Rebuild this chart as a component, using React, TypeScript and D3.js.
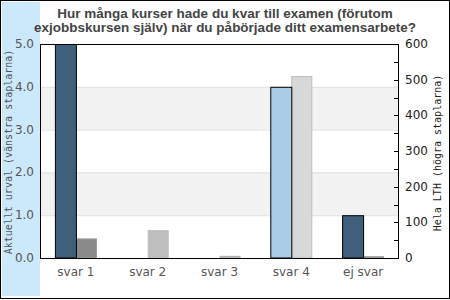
import * as d3 from 'd3';

const categories = ['svar 1', 'svar 2', 'svar 3', 'svar 4', 'ej svar'];
const leftValues = [5.0, 0, 0, 4.0, 1.0];
const rightValues = [55, 78, 6, 510, 5];
const leftColors = ['#3f5f7a', '#3f5f7a', '#3f5f7a', '#aacce6', '#3f5f7a'];
const rightColors = ['#8a8a8a', '#bebebe', '#bebebe', '#d8d8d8', '#8a8a8a'];
const rightStrokes = ['#9a9a9a', '#bebebe', '#b0b0b0', '#bcbcbc', '#a0a0a0'];
const leftTicks = [0, 1, 2, 3, 4, 5];
const rightTicks = [0, 100, 200, 300, 400, 500, 600];
const titleLines = [
  'Hur många kurser hade du kvar till examen (förutom',
  'exjobbskursen själv) när du påbörjade ditt examensarbete?',
];

export default function App() {
  const W = 450;
  const H = 300;
  const plot = { left: 40, right: 399, top: 44, bottom: 258 };

  const x = d3.scaleBand().domain(categories).range([plot.left, plot.right]);
  const yL = d3.scaleLinear().domain([0, 5]).range([plot.bottom, plot.top]);
  const yR = d3.scaleLinear().domain([0, 600]).range([plot.bottom, plot.top]);
  const barW = 21;

  const minorTicks = d3.range(0, 601, 50);

  return (
    <svg width={W} height={H} style={{ position: 'absolute', left: 0, top: 0 }}>
      <rect x={0.5} y={0.5} width={W - 1} height={H - 2} fill="#fff" stroke="#000" />
      <rect x={2} y={2} width={plot.left - 2} height={H - 6} fill="#cce8fb" />

      {/* shaded bands */}
      {[[3, 4], [1, 2]].map(([a, b]) => (
        <rect key={a} x={plot.left} y={yL(b)} width={plot.right - plot.left} height={yL(a) - yL(b)} fill="#f2f2f2" />
      ))}
      {[1, 2, 3, 4].map(t => (
        <line key={t} x1={plot.left} x2={plot.right} y1={yL(t) + 0.5} y2={yL(t) + 0.5} stroke="#e0e0e0" />
      ))}

      {/* bars */}
      {categories.map((c, i) => {
        const cx = (x(c) || 0) + x.bandwidth() / 2;
        return (
          <g key={c}>
            {rightValues[i] > 0 && (
              <rect x={cx + 0.5} y={yR(rightValues[i]) + 0.5} width={barW - 1} height={plot.bottom - yR(rightValues[i]) - 0.5}
                fill={rightColors[i]} stroke={rightStrokes[i]} />
            )}
            {leftValues[i] > 0 && (
              <rect x={cx - barW + 0.5} y={yL(leftValues[i]) + 0.5} width={barW} height={plot.bottom - yL(leftValues[i]) - 0.5}
                fill={leftColors[i]} stroke="#000" />
            )}
          </g>
        );
      })}

      {/* plot frame */}
      <rect x={plot.left + 0.5} y={plot.top + 0.5} width={plot.right - plot.left - 1} height={plot.bottom - plot.top}
        fill="none" stroke="#000" />

      {/* right minor ticks */}
      {minorTicks.map(t => (
        <line key={t} x1={plot.right - 5} x2={plot.right} y1={Math.round(yR(t)) + 0.5} y2={Math.round(yR(t)) + 0.5} stroke="#000" />
      ))}

      {/* left tick labels */}
      {leftTicks.map(t => (
        <text key={t} x={34} y={yL(t) + 4} textAnchor="end" fontFamily="DejaVu Sans" fontSize={12} fill="#555">
          {d3.format('.1f')(t)}
        </text>
      ))}
      {rightTicks.map(t => (
        <text key={t} x={405} y={yR(t) + 4} fontFamily="DejaVu Sans" fontSize={12} fill="#222">
          {t}
        </text>
      ))}

      {/* category labels */}
      {categories.map(c => (
        <text key={c} x={(x(c) || 0) + x.bandwidth() / 2} y={276} textAnchor="middle" fontFamily="DejaVu Sans" fontSize={12} fill="#555">
          {c}
        </text>
      ))}

      {/* axis titles */}
      <text transform="translate(12,152) rotate(-90)" textAnchor="middle" fontFamily="DejaVu Sans Mono" fontSize={10} fill="#555">
        Aktuellt urval (vänstra staplarna)
      </text>
      <text transform="translate(441,153) rotate(-90)" textAnchor="middle" fontFamily="DejaVu Sans Mono" fontSize={10} fill="#222">
        Hela LTH (högra staplarna)
      </text>

      {/* title */}
      {titleLines.map((l, i) => (
        <text key={i} x={225} y={18 + i * 14} textAnchor="middle" fontFamily="Liberation Sans, Arial" fontWeight="bold" fontSize={13.5} fill="#444">
          {l}
        </text>
      ))}
    </svg>
  );
}
